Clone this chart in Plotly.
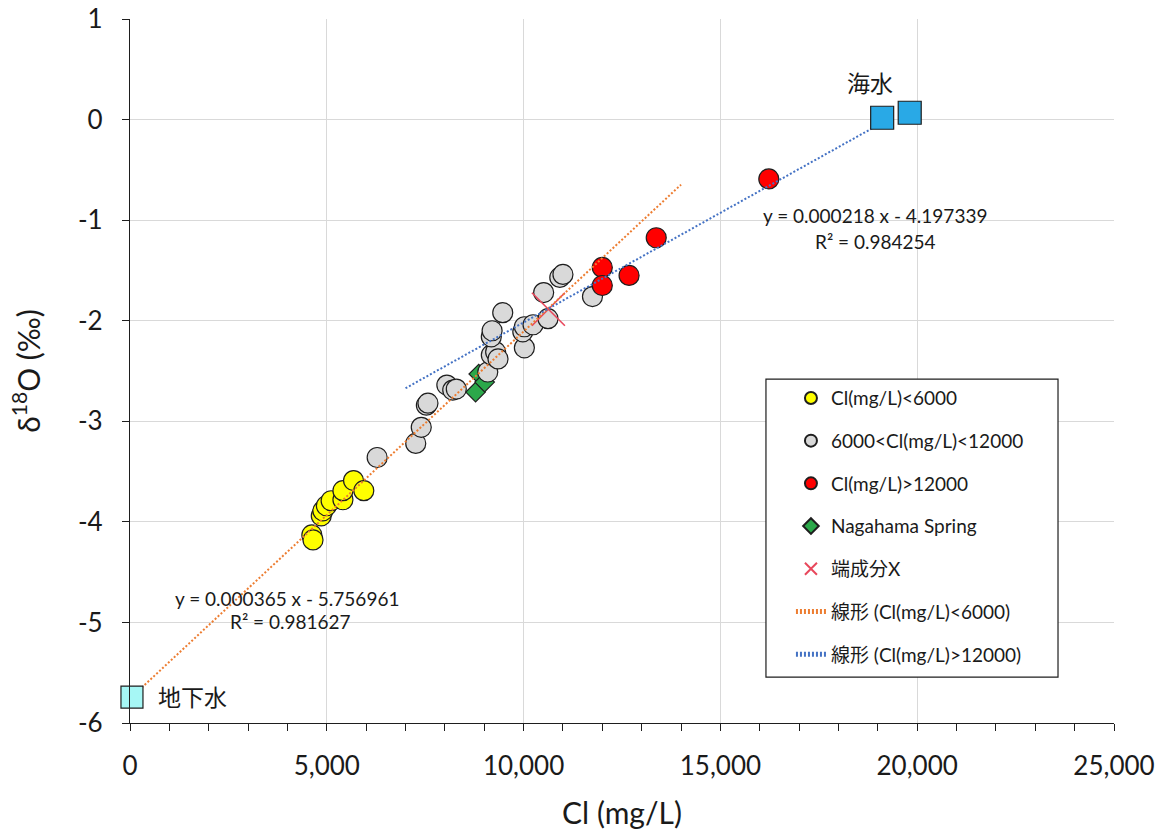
import plotly.graph_objects as go

# Cl concentration (mg/L) and delta-18O (permil) per sample group
yellow_x = [4620, 4650, 4860, 4900, 4990, 5110, 5410, 5410, 5680, 5940]
yellow_y = [-4.13, -4.18, -3.94, -3.89, -3.84, -3.79, -3.78, -3.69, -3.59, -3.69]

gray_x = [6280, 7260, 7400, 7530, 7570, 8050, 8200, 8290, 9090, 9180, 9290, 9350,
          9180, 9200, 9470, 10020, 9980, 10020, 10240, 10620, 10510, 10920, 11000, 11750]
gray_y = [-3.36, -3.22, -3.06, -2.84, -2.82, -2.64, -2.69, -2.68, -2.51, -2.34, -2.31, -2.38,
          -2.16, -2.10, -1.92, -2.27, -2.11, -2.06, -2.04, -1.98, -1.72, -1.57, -1.54, -1.76]

red_x = [12000, 12000, 12680, 13370, 16230]
red_y = [-1.47, -1.65, -1.55, -1.175, -0.59]

spring_x = [8860, 8780, 9010]
spring_y = [-2.53, -2.71, -2.61]

endmember_x = [10630]
endmember_y = [-1.886]

seawater_x = [19110, 19810]
seawater_y = [0.018, 0.068]

groundwater_x = [50]
groundwater_y = [-5.742]

# Linear fits: slope, intercept, R^2 and the x span each line is drawn over
fit_low = [0.000365, -5.756961]
fit_low_r2 = 0.981627
fit_low_span = [0, 14000]

fit_high = [0.000218, -4.197339]
fit_high_r2 = 0.984254
fit_high_span = [7000, 19200]

x_tick_vals = [0, 5000, 10000, 15000, 20000, 25000]
x_tick_text = ["0", "5,000", "10,000", "15,000", "20,000", "25,000"]
y_tick_vals = [1, 0, -1, -2, -3, -4, -5, -6]
y_tick_text = ["1", "0", "-1", "-2", "-3", "-4", "-5", "-6"]

FONT = "Lato, 'Noto Sans CJK JP', sans-serif"
TXT = "#1a1a1a"
OUTLINE = dict(color="#1e1e1e", width=1.2)


def fit_line(coef, span):
    xs = list(span)
    ys = [coef[0] * v + coef[1] for v in xs]
    return xs, ys


fig = go.Figure()

fig.add_trace(go.Scatter(
    x=yellow_x, y=yellow_y, mode="markers", name="Cl(mg/L)<6000",
    legendgroup="a", legendrank=1,
    marker=dict(symbol="circle", size=20, color="#FFFF00", line=OUTLINE)))

fig.add_trace(go.Scatter(
    x=spring_x, y=spring_y, mode="markers", name="Nagahama Spring",
    legendgroup="d", legendrank=4,
    marker=dict(symbol="diamond", size=15, color="#2BA84A", line=OUTLINE)))

fig.add_trace(go.Scatter(
    x=gray_x, y=gray_y, mode="markers", name="6000<Cl(mg/L)<12000",
    legendgroup="b", legendrank=2,
    marker=dict(symbol="circle", size=20, color="#D9D9D9", line=OUTLINE)))

fig.add_trace(go.Scatter(
    x=red_x, y=red_y, mode="markers", name="Cl(mg/L)>12000",
    legendgroup="c", legendrank=3,
    marker=dict(symbol="circle", size=20, color="#FF0000", line=OUTLINE)))

fig.add_trace(go.Scatter(
    x=endmember_x, y=endmember_y, mode="markers", name="端成分X",
    legendgroup="e", legendrank=5,
    marker=dict(symbol="x-thin", size=33, color="#E8485C",
                line=dict(color="#E8485C", width=1.6))))

lx, ly = fit_line(fit_low, fit_low_span)
fig.add_trace(go.Scatter(
    x=lx, y=ly, mode="lines", name="線形 (Cl(mg/L)<6000)",
    legendgroup="f", legendrank=6,
    line=dict(color="#ED7D31", width=2, dash="2px,2px")))

hx, hy = fit_line(fit_high, fit_high_span)
fig.add_trace(go.Scatter(
    x=hx, y=hy, mode="lines", name="線形 (Cl(mg/L)>12000)",
    legendgroup="g", legendrank=7,
    line=dict(color="#4472C4", width=2, dash="2px,2px")))

fig.add_trace(go.Scatter(
    x=seawater_x, y=seawater_y, mode="markers", showlegend=False,
    marker=dict(symbol="square", size=23, color="#29A9E6", line=OUTLINE)))

fig.add_trace(go.Scatter(
    x=groundwater_x, y=groundwater_y, mode="markers", showlegend=False, cliponaxis=False,
    marker=dict(symbol="square", size=22, color="#A6F7F5", line=OUTLINE)))

annots = [
    dict(x=18940, y=-0.953,
         text=f"y = {fit_high[0]:.6f} x - {abs(fit_high[1]):.6f}", font_size=19),
    dict(x=18940, y=-1.212, text=f"R² = {fit_high_r2:.6f}", font_size=19),
    dict(x=3990, y=-4.76,
         text=f"y = {fit_low[0]:.6f} x - {abs(fit_low[1]):.6f}", font_size=19),
    dict(x=4080, y=-4.99, text=f"R² = {fit_low_r2:.6f}", font_size=19),
    dict(x=18790, y=0.368, text="海水", font_size=23),
    dict(x=1590, y=-5.745, text="地下水", font_size=23),
]
for a in annots:
    fig.add_annotation(x=a["x"], y=a["y"], text=a["text"], showarrow=False,
                       xref="x", yref="y",
                       font=dict(family=FONT, size=a["font_size"], color=TXT))

# legend frame
fig.add_shape(type="rect", xref="paper", yref="paper",
              x0=0.6463, x1=0.9431, y0=0.0653, y1=0.4886,
              line=dict(color="#1e1e1e", width=1.2), fillcolor="white", layer="above")

axis_common = dict(showline=True, linecolor="#1e1e1e", linewidth=1.2, zeroline=False,
                   gridcolor="#D9D9D9", gridwidth=1, tickcolor="#1e1e1e", tickwidth=1.2,
                   automargin=False,
                   tickfont=dict(family=FONT, size=26, color=TXT))

fig.update_layout(
    width=1161, height=832, autosize=False,
    margin=dict(l=130, r=47, t=19, b=109),
    paper_bgcolor="white", plot_bgcolor="white",
    font=dict(family=FONT, color=TXT),
    xaxis=dict(range=[0, 25000], tickvals=x_tick_vals, ticktext=x_tick_text,
               ticks="outside", ticklen=7, ticklabelstandoff=13,
               minor=dict(dtick=1000, ticks="outside", ticklen=7, tickcolor="#1e1e1e",
                          tickwidth=1.2, showgrid=False),
               title=dict(text="Cl (mg/L)", font=dict(family=FONT, size=30, color=TXT),
                          standoff=22),
               **axis_common),
    yaxis=dict(range=[-6, 1], tickvals=y_tick_vals, ticktext=y_tick_text,
               ticks="outside", ticklen=7, ticklabelstandoff=14,
               title=dict(text="δ<sup>18</sup>O (‰)", font=dict(family=FONT, size=30, color=TXT),
                          standoff=28),
               **axis_common),
    # second pair of axes supplies the inner half of the crossing tick marks
    xaxis2=dict(overlaying="x", anchor="y", side="bottom", range=[0, 25000], dtick=1000,
                tick0=0, ticks="inside", ticklen=7, tickcolor="#1e1e1e", tickwidth=1.2,
                showticklabels=False, showgrid=False, zeroline=False, showline=False,
                automargin=False),
    yaxis2=dict(overlaying="y", anchor="x", side="left", range=[-6, 1], dtick=1,
                tick0=0, ticks="inside", ticklen=7, tickcolor="#1e1e1e", tickwidth=1.2,
                showticklabels=False, showgrid=False, zeroline=False, showline=False,
                automargin=False),
    legend=dict(x=0.6717, y=0.4885, xanchor="left", yanchor="top",
                bgcolor="rgba(0,0,0,0)", borderwidth=0,
                traceorder="grouped", tracegroupgap=15, itemsizing="constant",
                font=dict(family=FONT, size=19, color=TXT)),
    showlegend=True,
)

fig.write_html("out.html")
